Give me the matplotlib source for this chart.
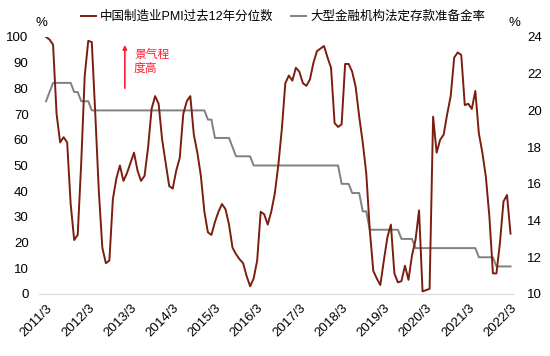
import numpy as np
import matplotlib
matplotlib.use('Agg')
import matplotlib.pyplot as plt

plt.rcParams['font.family'] = ['Liberation Sans', 'Noto Sans CJK SC']

# monthly, 2011/3 .. 2022/3
pmi_pct = [100, 99, 97, 70, 59, 61, 59, 35, 21, 23, 51, 85,
           98.5, 98, 70, 40, 18, 12, 13, 37, 45, 50, 44, 47,
           51, 55, 48, 44, 46, 57, 72, 77, 74, 60, 51, 42,
           41, 48, 53, 70, 75, 77, 62, 55, 46, 32, 24, 23,
           28, 32, 35, 33, 27, 18, 15.5, 13.5, 12, 7, 3, 6,
           13, 32, 31, 27, 32, 39, 50, 64, 82, 85, 83, 88,
           86.5, 82, 81, 83.5, 90, 94.5, 95.5, 96.5, 92, 88, 66.5, 65,
           66, 89.5, 89.5, 86.5, 80.5, 69, 59, 47, 25, 9, 6, 3.5,
           13, 22, 27, 8, 4.5, 5, 11, 5.5, 15, 21, 32.5, 1,
           1.5, 2, 69, 55, 60, 62, 70, 77, 92, 94, 93, 73.5,
           74, 72, 79, 62.5, 55, 45.5, 30, 8, 8, 20, 36, 38.5,
           23.5]

rrr = [20.5, 21.0, 21.5, 21.5, 21.5, 21.5, 21.5, 21.5, 21.0, 21.0, 20.5, 20.5,
       20.5, 20.0, 20.0, 20.0, 20.0, 20.0, 20.0, 20.0, 20.0, 20.0, 20.0, 20.0,
       20.0, 20.0, 20.0, 20.0, 20.0, 20.0, 20.0, 20.0, 20.0, 20.0, 20.0, 20.0,
       20.0, 20.0, 20.0, 20.0, 20.0, 20.0, 20.0, 20.0, 20.0, 20.0, 19.5, 19.5,
       18.5, 18.5, 18.5, 18.5, 18.5, 18.0, 17.5, 17.5, 17.5, 17.5, 17.5, 17.0,
       17.0, 17.0, 17.0, 17.0, 17.0, 17.0, 17.0, 17.0, 17.0, 17.0, 17.0, 17.0,
       17.0, 17.0, 17.0, 17.0, 17.0, 17.0, 17.0, 17.0, 17.0, 17.0, 17.0, 17.0,
       16.0, 16.0, 16.0, 15.5, 15.5, 15.5, 14.5, 14.5, 13.5, 13.5, 13.5, 13.5,
       13.5, 13.5, 13.5, 13.5, 13.5, 13.0, 13.0, 13.0, 13.0, 12.5, 12.5, 12.5,
       12.5, 12.5, 12.5, 12.5, 12.5, 12.5, 12.5, 12.5, 12.5, 12.5, 12.5, 12.5,
       12.5, 12.5, 12.5, 12.0, 12.0, 12.0, 12.0, 12.0, 11.5, 11.5, 11.5, 11.5,
       11.5]

xlabels = ['2011/3', '2012/3', '2013/3', '2014/3', '2015/3', '2016/3',
           '2017/3', '2018/3', '2019/3', '2020/3', '2021/3', '2022/3']

name_pmi = '中国制造业PMI过去12年分位数'
name_rrr = '大型金融机构法定存款准备金率'

c_pmi = '#7b1e0f'
c_rrr = '#808080'
c_red = '#ff1f2f'

months = np.arange(len(pmi_pct))

fig = plt.figure(figsize=(5.5, 3.56), dpi=100)
ax = fig.add_axes([0.0709, 0.1742, 0.8618, 0.7219])
ax2 = ax.twinx()

l1, = ax.plot(months, pmi_pct, color=c_pmi, lw=1.4, label=name_pmi)
l2, = ax2.plot(months, rrr, color=c_rrr, lw=1.4, label=name_rrr)
ax.set_zorder(ax2.get_zorder() + 1)
ax.patch.set_visible(False)

ax.set_xlim(-2, 132.7)
ax.set_ylim(0, 100)
ax2.set_ylim(10, 24)
ax.set_yticks(np.arange(0, 101, 10))
ax2.set_yticks(np.arange(10, 25, 2))
ax.set_xticks(np.arange(0, len(pmi_pct), 12))
ax.set_xticklabels(xlabels, rotation=45, ha='right', rotation_mode='anchor')

for a in (ax, ax2):
    for s in a.spines.values():
        s.set_visible(False)
    a.tick_params(length=0, labelsize=9.5, colors='black')
ax.spines['bottom'].set_visible(True)
ax.spines['bottom'].set_color('#d9d9d9')
ax.spines['bottom'].set_linewidth(0.8)
ax.tick_params(axis='x', pad=6)
ax.tick_params(axis='y', pad=7.5)
ax2.tick_params(axis='y', pad=10)

fig.text(41 / 550, 1 - 23 / 356, '%', fontsize=9.5, ha='center', va='center')
fig.text(514 / 550, 1 - 23 / 356, '%', fontsize=9.5, ha='center', va='center')

# annotation arrow
ax.annotate('', xy=(22.4, 98), xytext=(22.4, 79),
            arrowprops=dict(arrowstyle='-|>', color=c_red, lw=1.2, mutation_scale=6))
ax.text(25.0, 95.5, '景气程\n度高', color=c_red, fontsize=8.5, va='top', ha='left',
        linespacing=1.3)

fig.legend([l1, l2], [name_pmi, name_rrr], loc='center', ncol=2,
           bbox_to_anchor=(0.515, 1 - 17 / 356), frameon=False, fontsize=9,
           handlelength=1.2, handletextpad=0.3, columnspacing=1.4)

fig.savefig('out.png', dpi=100)
